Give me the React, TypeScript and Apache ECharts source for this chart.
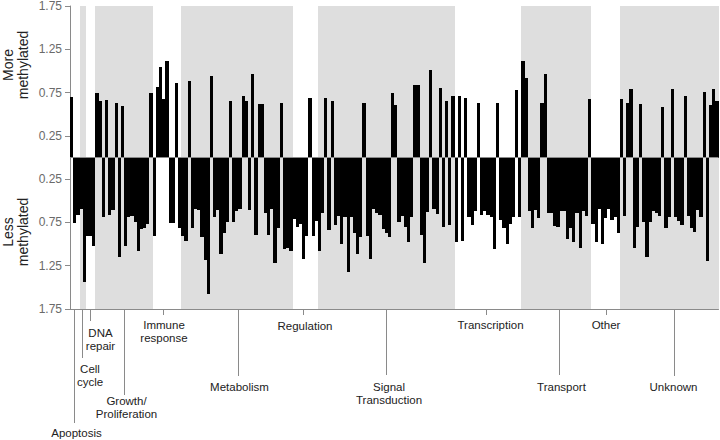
import React, { useEffect, useRef } from 'react';
import * as echarts from 'echarts';

// Methylation difference per gene (positive = more methylated, negative = less methylated)
const apoptosis = [0.70, -0.76, -0.66];
const cellCycle = [-0.59, -1.44];
const dnaRepair = [-0.91, -0.91, -1.02];
const growth = [0.74, 0.65, -0.69, 0.66, -0.66, -0.61, 0.63, -1.15, 0.60, -1.02, -0.69, -0.68, -0.74, -1.08, -0.83, -0.81, -0.77, 0.74];
const immune = [-0.91, 0.82, 1.05, 0.68, 1.11, -0.76, -0.76, 0.86, -0.81];
const metabolism = [-0.91, -0.96, 0.88, -0.82, -0.59, -0.61, -0.92, -1.18, -1.58, 0.94, -0.69, -0.61, -1.12, -0.87, -0.75, 0.65, -0.75, -0.62, -0.59, 0.71, 0.65, -0.61, 0.97, -0.89, 0.62, 0.62, -0.64, -0.89, -0.59, -1.22, -0.81, 0.63, -1.06, -1.04, -1.08];
const regulation = [-0.71, -0.80, -0.77, -1.17, -0.91, 0.69, -0.91, -0.73];
const signal = [-1.08, -0.64, 0.69, -0.84, 0.65, -0.78, -0.67, -1.00, -0.69, -1.32, -0.69, -0.87, -1.12, -0.92, 0.63, -0.91, -1.17, -0.59, -0.64, -0.66, -0.83, -0.87, -0.92, 0.74, 0.61, -0.75, -0.68, -0.80, -0.98, -0.69, 0.84, 0.84, -0.89, -1.22, -0.63, 1.01, -0.59, -0.65, 0.80, -0.80, 0.65, -0.78, 0.71];
const transcription = [-0.98, 0.71, -0.96, 0.69, -0.69, -0.78, -0.62, 0.63, -0.66, -0.62, -0.66, -0.69, -1.06, 0.63, -0.72, -0.81, -1.00, -0.77, -0.69, 0.78, -0.69];
const transport = [1.12, 0.92, -0.62, -0.82, -0.61, -0.70, 0.63, 0.96, -0.64, -0.64, -0.79, -0.80, -0.62, -0.62, -0.94, -0.81, -0.98, -0.64, -1.04, -0.62, -0.67, 0.67];
const other = [-0.77, -0.98, -0.59, -1.00, -0.70, -0.59, -0.72, -0.69, -0.87];
const unknown = [0.67, -0.67, 0.63, 0.79, -1.04, -0.80, 0.62, -0.74, -1.15, -0.74, -0.62, -0.64, -0.67, 0.58, -0.82, -0.69, 0.79, -0.69, -0.73, -0.78, 0.71, -0.67, -0.81, -0.86, -0.61, -0.69, 0.76, -1.19, 0.61, 0.79, 0.65];

const groupNames = ['Apoptosis', 'Cell cycle', 'DNA repair', 'Growth/ Proliferation', 'Immune response', 'Metabolism', 'Regulation', 'Signal Transduction', 'Transcription', 'Transport', 'Other', 'Unknown'];
const groupValues = [apoptosis, cellCycle, dnaRepair, growth, immune, metabolism, regulation, signal, transcription, transport, other, unknown];

const yTickValues = [-1.75, -1.25, -0.75, -0.25, 0.25, 0.75, 1.25, 1.75];

// Annotation layout (leader anchor as fractional gene index, label placement in px)
const annotationLayout = [
  { lines: ['Apoptosis'], anchor: 0.63, lineEnd: 423, tx: 76.5, ty: [433] },
  { lines: ['Cell', 'cycle'], anchor: 3.27, lineEnd: 358, tx: 90, ty: [369, 382] },
  { lines: ['DNA', 'repair'], anchor: 5.67, lineEnd: 321, tx: 100.5, ty: [333, 345.5] },
  { lines: ['Growth/', 'Proliferation'], anchor: 16.58, lineEnd: 395, tx: 126.5, ty: [401, 414] },
  { lines: ['Immune', 'response'], anchor: 28.6, lineEnd: 315, tx: 164, ty: [325, 338] },
  { lines: ['Metabolism'], anchor: 52.5, lineEnd: 376, tx: 239.5, ty: [386.5] },
  { lines: ['Regulation'], anchor: 72.7, lineEnd: 315, tx: 305, ty: [325.5] },
  { lines: ['Signal', 'Transduction'], anchor: 99.0, lineEnd: 375, tx: 389, ty: [386.5, 399.5] },
  { lines: ['Transcription'], anchor: 130.5, lineEnd: 315, tx: 490.5, ty: [325] },
  { lines: ['Transport'], anchor: 153.4, lineEnd: 375, tx: 561.5, ty: [386.5] },
  { lines: ['Other'], anchor: 168.1, lineEnd: 315, tx: 606, ty: [324.5] },
  { lines: ['Unknown'], anchor: 189.6, lineEnd: 376, tx: 673.5, ty: [386.5] },
];

const FONT = '"Liberation Sans", Arial, Helvetica, sans-serif';
const AXIS_GRAY = '#8a8a8a';
const BAND_GRAY = '#dedede';

export default function App() {
  const ref = useRef<HTMLDivElement>(null);

  useEffect(() => {
    if (!ref.current) return;
    const chart = echarts.init(ref.current, null, { renderer: 'svg' });

    const values = groupValues.flat();
    const genes = values.map((_, i) => 'gene' + (i + 1));
    const barData = values.map((v, i) => [i, v]);

    const bands: number[][] = [];
    let start = 0;
    groupValues.forEach((g, k) => {
      if (k % 2 === 1) bands.push([start, start + g.length - 1, 0]);
      start += g.length;
    });

    chart.setOption({
      animation: false,
      grid: { left: 70, top: 6, width: 648.5, height: 303 },
      xAxis: {
        type: 'category',
        data: genes,
        axisLine: { onZero: false, lineStyle: { color: AXIS_GRAY, width: 1 } },
        axisTick: { show: false },
        axisLabel: { show: false },
        splitLine: { show: false },
      },
      yAxis: {
        type: 'value',
        min: -1.75,
        max: 1.75,
        splitLine: { show: false },
        axisLine: { show: true, lineStyle: { color: AXIS_GRAY, width: 1 } },
        axisTick: { show: true, length: 5, customValues: yTickValues, lineStyle: { color: AXIS_GRAY } },
        axisLabel: {
          customValues: yTickValues,
          formatter: (v: number) => Math.abs(v).toFixed(2),
          color: '#6a6a6a',
          fontSize: 12,
          fontFamily: FONT,
          margin: 8,
        },
      },
      series: [
        {
          type: 'custom',
          silent: true,
          z: 0,
          encode: { x: [0, 1], y: 2 },
          data: bands,
          renderItem: (params: any, api: any) => {
            const s = api.coord([api.value(0), 0]);
            const e = api.coord([api.value(1), 0]);
            const w = api.size([1, 0])[0];
            const cs = params.coordSys;
            const xl = Math.round(s[0] - w / 2);
            const xr = Math.round(e[0] + w / 2);
            return {
              type: 'rect',
              shape: { x: xl, y: cs.y, width: xr - xl, height: cs.height },
              style: { fill: BAND_GRAY },
            };
          },
        },
        {
          type: 'custom',
          name: 'Methylation',
          z: 2,
          encode: { x: 0, y: 1 },
          data: barData,
          renderItem: (params: any, api: any) => {
            const idx = api.value(0);
            const v = api.value(1);
            const top = api.coord([idx, v]);
            const base = api.coord([idx, 0]);
            const w = api.size([1, 0])[0];
            const xl = Math.round(top[0] - w / 2);
            const xr = Math.round(top[0] + w / 2);
            const yb = Math.round(base[1]);
            const yt = Math.round(top[1]);
            return {
              type: 'rect',
              shape: { x: xl, y: Math.min(yb, yt), width: xr - xl, height: Math.abs(yb - yt) },
              style: { fill: '#000' },
            };
          },
          markLine: {
            silent: true,
            symbol: 'none',
            label: { show: false },
            lineStyle: { color: AXIS_GRAY, type: 'solid', width: 1 },
            data: [{ yAxis: 0 }],
          },
        },
      ],
    });

    const x0 = chart.convertToPixel({ xAxisIndex: 0 }, 0) as number;
    const x1 = chart.convertToPixel({ xAxisIndex: 0 }, 1) as number;
    const bw = x1 - x0;
    const yBottom = chart.convertToPixel({ yAxisIndex: 0 }, -1.75) as number;

    const graphic: any[] = [];
    annotationLayout.forEach((a) => {
      const lx = Math.round(x0 + a.anchor * bw) + 0.5;
      graphic.push({
        type: 'line',
        silent: true,
        shape: { x1: lx, y1: yBottom, x2: lx, y2: a.lineEnd },
        style: { stroke: AXIS_GRAY, lineWidth: 1 },
      });
      a.lines.forEach((t, k) => {
        graphic.push({
          type: 'text',
          silent: true,
          x: a.tx,
          y: a.ty[k],
          style: {
            text: t,
            fill: '#222',
            fontSize: 11.5,
            fontFamily: FONT,
            align: 'center',
            verticalAlign: 'middle',
            textAlign: 'center',
            textVerticalAlign: 'middle',
          },
        });
      });
    });

    const axisNames = [
      { text: 'More', x: 8, y: 65 },
      { text: 'methylated', x: 23, y: 65 },
      { text: 'Less', x: 8, y: 232 },
      { text: 'methylated', x: 23, y: 232 },
    ];
    axisNames.forEach((n) => {
      graphic.push({
        type: 'text',
        silent: true,
        x: n.x,
        y: n.y,
        rotation: Math.PI / 2,
        style: {
          text: n.text,
          fill: '#222',
          fontSize: 14,
          fontFamily: FONT,
          align: 'center',
          verticalAlign: 'middle',
          textAlign: 'center',
          textVerticalAlign: 'middle',
        },
      });
    });

    chart.setOption({ graphic });

    return () => chart.dispose();
  }, []);

  return (
    <div
      ref={ref}
      style={{ position: 'absolute', left: 0, top: 0, width: 720, height: 440 }}
    />
  );
}
